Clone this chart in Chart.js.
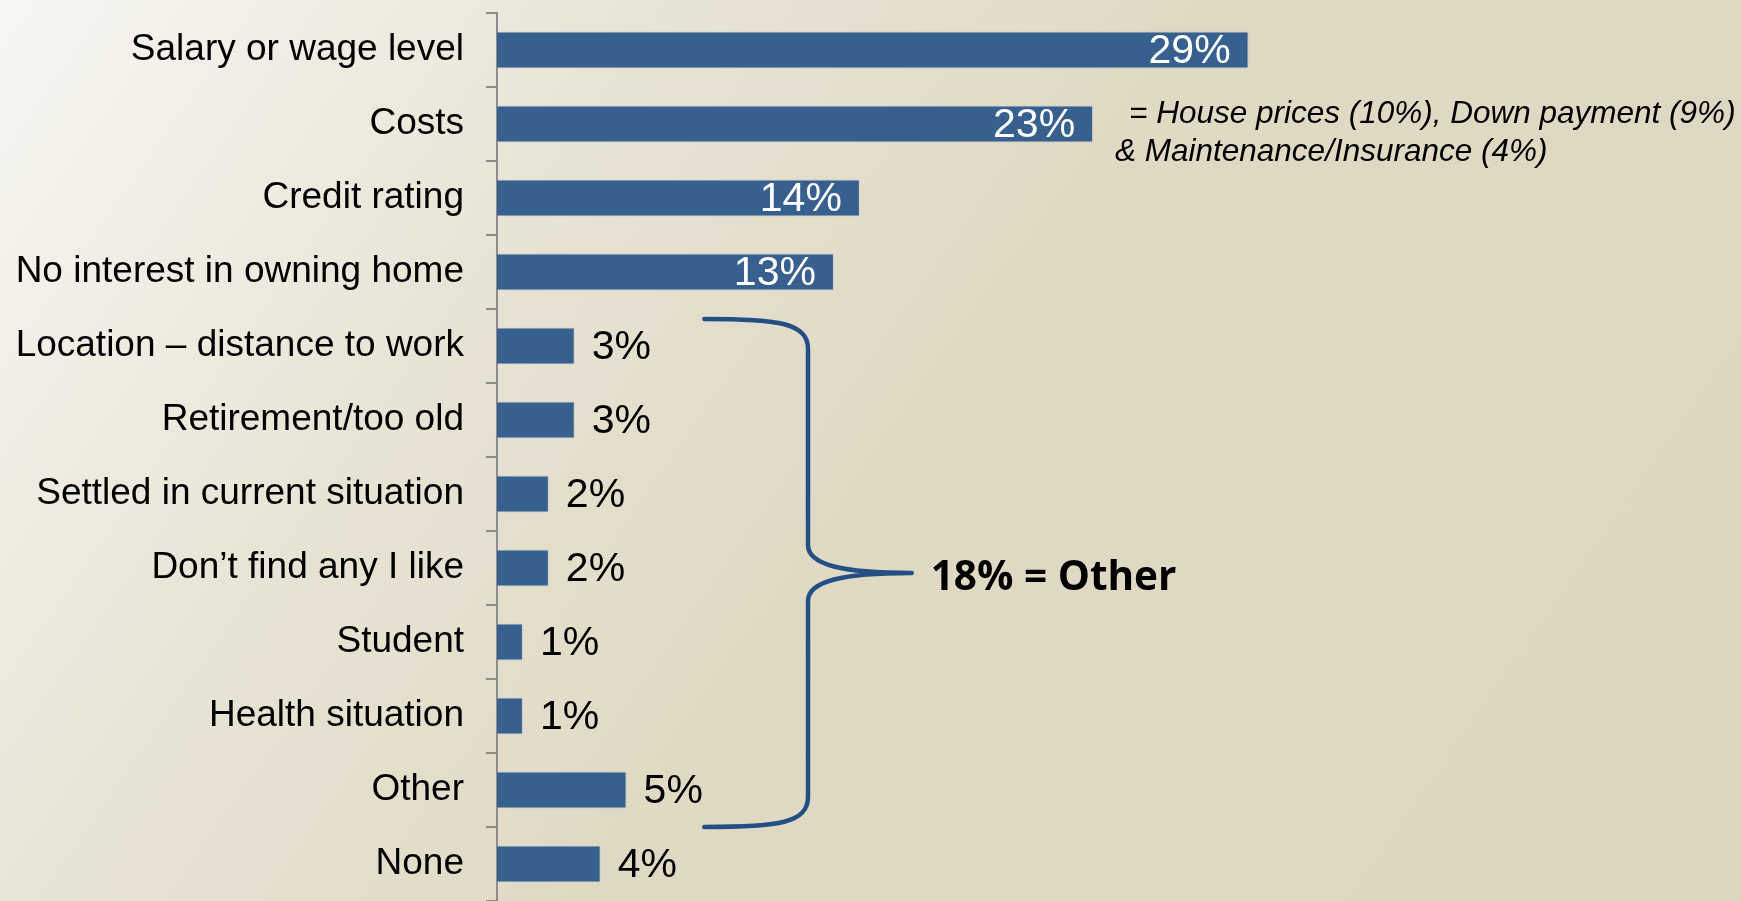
<!DOCTYPE html>
<html>
<head>
<meta charset="utf-8">
<script src="https://cdn.jsdelivr.net/npm/chart.js@4"></script>
<style>
  html, body { margin: 0; padding: 0; }
  body {
    width: 1741px; height: 901px; overflow: hidden;
    background: linear-gradient(125deg, #f7f6f2 0%, #e8e4d5 28%, #e0dac5 50%, #ddd6bf 100%);
  }
  #wrap { position: relative; width: 1741px; height: 901px; }
</style>
</head>
<body>
<div id="wrap"><canvas id="reasonsChart"></canvas></div>
<script>
// Reasons for not buying a home (share of respondents, %)
const reasons = [
    "Salary or wage level", "Costs", "Credit rating", "No interest in owning home",
    "Location \u2013 distance to work", "Retirement/too old", "Settled in current situation",
    "Don\u2019t find any I like", "Student", "Health situation", "Other", "None"
];
const shares = [29, 23, 14, 13, 3, 3, 2, 2, 1, 1, 5, 4];

// note next to the "Costs" bar and the bracket summary
const costsNote = ["= House prices (10%), Down payment (9%)", "& Maintenance/Insurance (4%)"];
const otherNote = "18% = Other";
const otherFrom = 4, otherTo = 10; // categories covered by the bracket

// percent labels at the end of each bar
const valueLabels = {
    id: "valueLabels",
    afterDatasetsDraw(chart) {
        const ctx = chart.ctx;
        const meta = chart.getDatasetMeta(0);
        ctx.save();
        ctx.font = '41px "Liberation Sans", Arial, sans-serif';
        ctx.textBaseline = "middle";
        meta.data.forEach((bar, i) => {
            const txt = shares[i] + "%";
            if (shares[i] >= 10) {
                ctx.fillStyle = "#ffffff";
                ctx.textAlign = "right";
                ctx.fillText(txt, bar.x - 18, bar.y + 2);
            } else {
                ctx.fillStyle = "#000000";
                ctx.textAlign = "left";
                ctx.fillText(txt, bar.x + 17, bar.y + 2);
            }
        });
        ctx.restore();
    }
};

// curly bracket + notes
const notes = {
    id: "notes",
    afterDraw(chart) {
        const ctx = chart.ctx;
        const xs = chart.scales.x, ys = chart.scales.y;
        const half = (ys.getPixelForValue(1) - ys.getPixelForValue(0)) / 2;
        const top = ys.getPixelForValue(otherFrom) - half + 10;
        const bottom = ys.getPixelForValue(otherTo) + half;
        const mid = (top + bottom) / 2;
        const x0 = xs.getPixelForValue(8), xv = xs.getPixelForValue(12), xt = xs.getPixelForValue(16);

        ctx.save();
        ctx.strokeStyle = "#244f85";
        ctx.lineWidth = 4.5;
        ctx.lineCap = "round";
        ctx.lineJoin = "round";
        ctx.beginPath();
        ctx.moveTo(x0, top);
        ctx.bezierCurveTo(x0 + 75, top, xv, top + 4, xv, top + 30);
        ctx.lineTo(xv, mid - 28);
        ctx.bezierCurveTo(xv, mid - 8, xv + 35, mid, xt, mid);
        ctx.bezierCurveTo(xv + 35, mid, xv, mid + 8, xv, mid + 28);
        ctx.lineTo(xv, bottom - 30);
        ctx.bezierCurveTo(xv, bottom - 4, x0 + 75, bottom, x0, bottom);
        ctx.stroke();

        ctx.fillStyle = "#000000";
        ctx.textBaseline = "middle";
        ctx.textAlign = "left";
        ctx.font = 'bold 40.5px "Open Sans", sans-serif';
        ctx.fillText(otherNote, xt + 19, mid + 5);

        ctx.font = 'italic 31.5px "Liberation Sans", Arial, sans-serif';
        ctx.fillText(costsNote[0], 1129, ys.getPixelForValue(1) - 10);
        ctx.fillText(costsNote[1], 1115, ys.getPixelForValue(1) + 28);
        ctx.restore();
    }
};

function renderReasonsChart() {
    const ctx = document.getElementById("reasonsChart").getContext("2d");
    new Chart(ctx, {
        type: "bar",
        data: {
            labels: reasons,
            datasets: [{
                data: shares,
                backgroundColor: "#37608f",
                borderColor: "rgba(190,195,200,0.7)",
                borderWidth: 1,
                categoryPercentage: 1.0,
                barPercentage: 0.5
            }]
        },
        options: {
            indexAxis: "y",
            responsive: false,
            animation: false,
            layout: { padding: { top: 13, right: 0, bottom: 0, left: 0 } },
            plugins: {
                legend: { display: false },
                tooltip: { enabled: false }
            },
            scales: {
                x: { display: false, min: 0, max: 48 },
                y: {
                    afterFit(scale) {
                        scale.width = 497;
                        scale.paddingTop = 0;
                        scale.paddingBottom = 0;
                    },
                    grid: {
                        offset: true,
                        drawOnChartArea: false,
                        drawTicks: true,
                        tickLength: 11,
                        color: "#8c8c8c",
                        lineWidth: 2
                    },
                    border: { display: true, color: "#8c8c8c", width: 2 },
                    ticks: {
                        color: "#000000",
                        padding: 22,
                        font: { family: '"Liberation Sans", Arial, sans-serif', size: 37 }
                    }
                }
            }
        },
        plugins: [valueLabels, notes]
    });
}

document.getElementById("reasonsChart").width = 1741;
document.getElementById("reasonsChart").height = 901;
document.addEventListener("DOMContentLoaded", renderReasonsChart);
</script>
</body>
</html>
